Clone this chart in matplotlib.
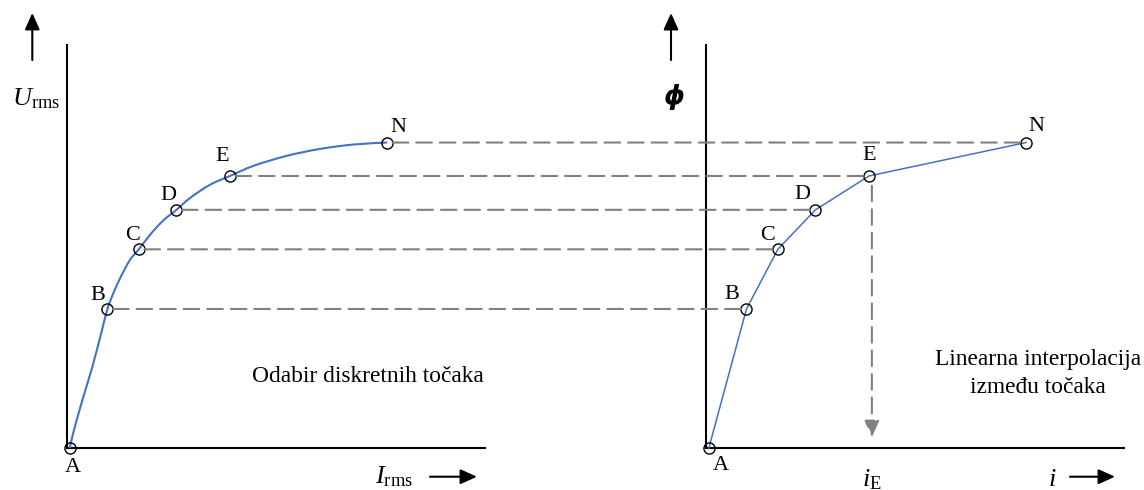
import matplotlib
matplotlib.use("Agg")
import matplotlib.pyplot as plt
import numpy as np
from matplotlib.patches import ConnectionPatch, FancyArrowPatch, PathPatch
from matplotlib.path import Path

plt.rcParams['font.family'] = ['Liberation Serif', 'DejaVu Sans']
plt.rcParams['mathtext.fontset'] = 'custom'
plt.rcParams['mathtext.rm'] = 'Liberation Serif'
plt.rcParams['mathtext.it'] = 'Liberation Serif:italic'

# ---- data (arbitrary units) ----
point_labels = ['A', 'B', 'C', 'D', 'E', 'N']
I_pts = [0.08, 0.98, 1.73, 2.63, 3.91, 7.67]
U_pts = [0.00, 3.45, 4.93, 5.91, 6.75, 7.58]

# smooth magnetisation curve
I_curve = [0.08, 0.16, 0.38, 0.62, 0.83, 0.98, 1.12, 1.30, 1.52, 1.73, 2.03,
           2.33, 2.63, 2.95, 3.43, 3.91, 4.47, 5.27, 6.06, 6.86, 7.67]
U_curve = [0.00, 0.37, 1.19, 2.02, 2.85, 3.45, 3.84, 4.25, 4.67, 4.93, 5.33,
           5.66, 5.91, 6.20, 6.53, 6.75, 7.00, 7.25, 7.42, 7.53, 7.58]

dashed_points = ['B', 'C', 'D', 'E', 'N']
query_point = 'E'

# ---- styles / layout ----
W, H = 1144, 490
BLUE = '#4472C4'
GREY = '#808080'
DASH = (0, (7.5, 3.8))
LBL_FS = 16
TXT_FS = 16.8
left_offsets = {'A': (3, -19), 'B': (-10, 13), 'C': (-6, 14), 'D': (-8, 14),
                'E': (-8, 19), 'N': (11, 15)}
right_offsets = {'A': (12, -17), 'B': (-15, 14), 'C': (-10, 14), 'D': (-13, 15),
                 'E': (0, 20), 'N': (10, 16)}


def fx(px):
    return px / W


def fy(py):
    return 1 - py / H


def smooth_path(xs, ys):
    """Cubic Bezier path passing through the given points (Catmull-Rom tangents)."""
    p = np.column_stack([xs, ys]).astype(float)
    n = len(p)
    verts = [p[0]]
    codes = [Path.MOVETO]
    for i in range(n - 1):
        p0 = p[i - 1] if i > 0 else p[i]
        p1, p2 = p[i], p[i + 1]
        p3 = p[i + 2] if i + 2 < n else p[i + 1]
        c1 = p1 + (p2 - p0) / 6.0
        c2 = p2 - (p3 - p1) / 6.0
        verts += [c1, c2, p2]
        codes += [Path.CURVE4] * 3
    return Path(verts, codes)


fig = plt.figure(figsize=(W / 100, H / 100), dpi=100)
ax1 = fig.add_axes([fx(66.5), 42 / H, 418 / W, 403 / H])
ax2 = fig.add_axes([fx(705.5), 42 / H, 418 / W, 403 / H])

for ax in (ax1, ax2):
    ax.set_xlim(0, 10)
    ax.set_ylim(0, 10)
    for s in ('top', 'right'):
        ax.spines[s].set_visible(False)
    for s in ('left', 'bottom'):
        ax.spines[s].set_linewidth(1.5)
        ax.spines[s].set_color('black')
    ax.set_xticks([])
    ax.set_yticks([])
    ax.patch.set_alpha(0)

# left: smooth curve
ax1.add_patch(PathPatch(smooth_path(I_curve, U_curve), facecolor='none',
                        edgecolor=BLUE, lw=1.5, zorder=3, clip_on=False))
# right: linear interpolation between points
ax2.plot(I_pts, U_pts, color=BLUE, lw=1.1, zorder=3, clip_on=False)

for ax, offs in ((ax1, left_offsets), (ax2, right_offsets)):
    ax.plot(I_pts, U_pts, linestyle='none', marker='o', ms=8, mfc='none',
            mec='black', mew=1.0, zorder=5, clip_on=False)
    for lab, x, y in zip(point_labels, I_pts, U_pts):
        ax.annotate(lab, (x, y), xytext=offs[lab], textcoords='offset pixels',
                    ha='center', va='center', fontsize=LBL_FS, zorder=6)

# horizontal dashed projections between the two diagrams
for lab, x, y in zip(point_labels, I_pts, U_pts):
    if lab in dashed_points:
        con = ConnectionPatch(xyA=(x, y), coordsA=ax1.transData,
                              xyB=(x, y), coordsB=ax2.transData,
                              color=GREY, lw=1.5, linestyle=DASH,
                              shrinkA=4, shrinkB=4, zorder=2)
        fig.add_artist(con)

# vertical dashed arrow from E down to the i axis
qi = point_labels.index(query_point)
ax2.annotate('', xy=(I_pts[qi] + 0.07, 0.27), xytext=(I_pts[qi] + 0.07, U_pts[qi]),
             arrowprops=dict(arrowstyle='-|>,head_length=1.0,head_width=0.45',
                             mutation_scale=10, color=GREY, lw=1.5,
                             linestyle=DASH, shrinkA=7, shrinkB=0))


# axis arrows
def farrow(p0, p1):
    a = FancyArrowPatch((fx(p0[0]), fy(p0[1])), (fx(p1[0]), fy(p1[1])),
                        transform=fig.transFigure,
                        arrowstyle='-|>,head_length=1.0,head_width=0.45',
                        mutation_scale=10, color='black', lw=1.5,
                        shrinkA=0, shrinkB=0)
    fig.add_artist(a)


farrow((32.3, 60), (32.3, 13))
farrow((671, 60), (671, 13))
farrow((430, 476.7), (477, 476.7))
farrow((1070, 476.7), (1115, 476.7))

# axis labels
fig.text(fx(12), fy(105), r'$U_{\mathrm{rms}}$', fontsize=19, ha='left', va='baseline')
fig.text(fx(674), fy(97), 'ϕ', fontsize=19, family='DejaVu Sans',
         weight='bold', style='italic', ha='center', va='center')
fig.text(fx(375), fy(483), r'$I_{\mathrm{rms}}$', fontsize=19, ha='left', va='baseline')
fig.text(fx(862), fy(486), r'$i_{\mathrm{E}}$', fontsize=19, ha='left', va='baseline')
fig.text(fx(1048), fy(486), r'$i$', fontsize=19, ha='left', va='baseline')

# annotations
fig.text(fx(368), fy(381.7), 'Odabir diskretnih točaka', fontsize=TXT_FS,
         ha='center', va='baseline')
fig.text(fx(1038), fy(365), 'Linearna interpolacija', fontsize=TXT_FS,
         ha='center', va='baseline')
fig.text(fx(1038), fy(393), 'između točaka', fontsize=TXT_FS,
         ha='center', va='baseline')

fig.savefig('out.png', dpi=100, facecolor='white')
